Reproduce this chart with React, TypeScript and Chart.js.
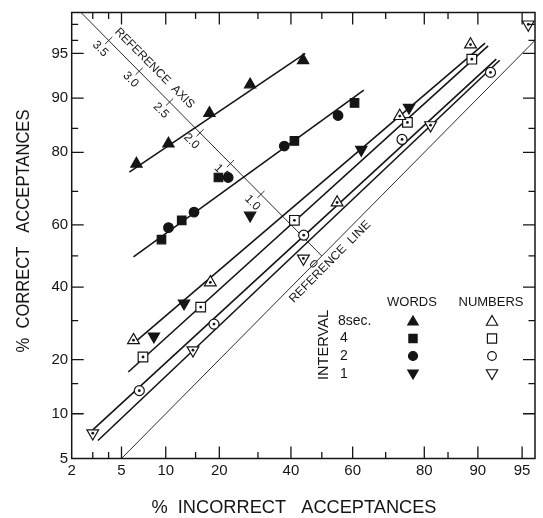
import React, { useEffect, useRef } from 'react';
import { Chart, registerables } from 'chart.js';
Chart.register(...registerables);

const INK = '#151515';
const FONT = '"Liberation Sans", Arial, sans-serif';

// ---- axis ticks (percent) ----
const xTickLabels = [2, 5, 10, 20, 40, 60, 80, 90, 95];
const xMinorTicks = [3, 4, 15, 30, 50, 70, 85];
const yTickLabels = [5, 10, 20, 40, 60, 80, 90, 95];
const yMinorTicks = [15, 30, 50, 70, 85, 96, 97];
const xLimits = [2, 96];
const yLimits = [5, 97.6];

// ---- WORDS (filled symbols) ----
const words8X = [6.4, 10.4, 17.8, 27.8, 43.9];
const words8Y = [77.3, 81.9, 87.7, 91.8, 94.4];
const words4X = [9.4, 12.5, 19.8, 41.1, 60.6];
const words4Y = [55.3, 61.4, 73.8, 82.5, 89.3];
const words2X = [10.4, 14.7, 22.1, 37.9, 55.3];
const words2Y = [59.1, 63.9, 73.8, 81.4, 87.3];
const words1X = [8.4, 12.9, 27.8, 62.7, 76.3];
const words1Y = [25.7, 35.0, 62.9, 80.6, 88.6];

// ---- NUMBERS (open symbols) ----
const nums8X = [6.1, 18.0, 55.0, 73.9, 88.9];
const nums8Y = [24.7, 41.5, 66.8, 87.2, 95.7];
const nums4X = [7.1, 16.0, 41.1, 75.9, 89.1];
const nums4Y = [20.6, 33.9, 61.4, 86.1, 94.5];
const nums2X = [6.7, 18.8, 44.1, 74.5, 91.7];
const nums2Y = [13.7, 29.0, 56.7, 82.8, 93.2];
const nums1X = [3.0, 14.5, 44.0, 81.4, 95.5];
const nums1Y = [7.5, 22.2, 49.2, 85.6, 97.0];

// ---- fitted lines (end points, percent) ----
const fitWords8X = [5.7, 44.6];
const fitWords8Y = [75.2, 95.0];
const fitWords42X = [6.1, 63.5];
const fitWords42Y = [49.7, 91.1];
const fitUpperX = [6.1, 91.0];
const fitUpperY = [23.9, 95.8];
const fitNums4X = [5.6, 91.4];
const fitNums4Y = [17.3, 95.6];
const fitNums2X = [3.0, 92.4];
const fitNums2Y = [7.9, 94.5];
const fitNums1X = [3.3, 92.8];
const fitNums1Y = [6.7, 94.4];

// ---- reference line / reference axis ----
const refLineX = [5, 96];
const refLineY = [5, 96];
const refAxisX = [2.4, 50];
const refAxisY = [97.6, 50];
const refAxisTicks = [3.5, 3.0, 2.5, 2.0, 1.5, 1.0, 0];
const refAxisLabels = ['3.5', '3.0', '2.5', '2.0', '1.5', '1.0', '0'];

// ---- legend ----
const intervalLabels = ['8sec.', '4', '2', '1'];

function probit(p: number): number {
  const a = [-3.969683028665376e1, 2.209460984245205e2, -2.759285104469687e2, 1.38357751867269e2, -3.066479806614716e1, 2.506628277459239];
  const b = [-5.447609879822406e1, 1.615858368580409e2, -1.556989798598866e2, 6.680131188771972e1, -1.328068155288572e1];
  const c = [-7.784894002430293e-3, -3.223964580411365e-1, -2.400758277161838, -2.549732539343734, 4.374664141464968, 2.938163982698783];
  const d = [7.784695709041462e-3, 3.224671290700398e-1, 2.445134137142996, 3.754408661907416];
  const pl = 0.02425;
  if (p < pl) {
    const q = Math.sqrt(-2 * Math.log(p));
    return (((((c[0] * q + c[1]) * q + c[2]) * q + c[3]) * q + c[4]) * q + c[5]) / ((((d[0] * q + d[1]) * q + d[2]) * q + d[3]) * q + 1);
  }
  if (p <= 1 - pl) {
    const q = p - 0.5, r = q * q;
    return ((((((a[0] * r + a[1]) * r + a[2]) * r + a[3]) * r + a[4]) * r + a[5]) * q) / (((((b[0] * r + b[1]) * r + b[2]) * r + b[3]) * r + b[4]) * r + 1);
  }
  const q = Math.sqrt(-2 * Math.log(1 - p));
  return -(((((c[0] * q + c[1]) * q + c[2]) * q + c[3]) * q + c[4]) * q + c[5]) / ((((d[0] * q + d[1]) * q + d[2]) * q + d[3]) * q + 1);
}
const z = (pct: number) => probit(pct / 100);
const pts = (xs: number[], ys: number[]) => xs.map((v, i) => ({ x: z(v), y: z(ys[i]) }));

function drawMarker(ctx: CanvasRenderingContext2D, style: string, x: number, y: number, r: number, filled: boolean, rot: number) {
  ctx.save();
  ctx.beginPath();
  if (style === 'triangle') {
    let rad = (rot * Math.PI) / 180;
    for (let k = 0; k < 3; k++) {
      const px = x + Math.sin(rad) * r, py = y - Math.cos(rad) * r;
      if (k === 0) ctx.moveTo(px, py); else ctx.lineTo(px, py);
      rad += (2 * Math.PI) / 3;
    }
    ctx.closePath();
  } else if (style === 'rect') {
    const s = r * Math.SQRT1_2;
    ctx.rect(x - s, y - s, 2 * s, 2 * s);
  } else {
    ctx.arc(x, y, r, 0, Math.PI * 2);
  }
  ctx.lineWidth = 1.2;
  ctx.strokeStyle = INK;
  ctx.fillStyle = filled ? INK : '#fff';
  ctx.fill();
  ctx.stroke();
  ctx.restore();
}

function fitText(ctx: CanvasRenderingContext2D, text: string, cx: number, cy: number, angle: number, font: string, width: number) {
  ctx.save();
  ctx.font = font;
  const w = ctx.measureText(text).width;
  ctx.translate(cx, cy);
  ctx.rotate(angle);
  ctx.scale(width / w, 1);
  ctx.textAlign = 'center';
  ctx.textBaseline = 'middle';
  ctx.fillStyle = INK;
  ctx.fillText(text, 0, 0);
  ctx.restore();
}

const overlay = {
  id: 'overlay',
  afterDraw(chart: any) {
    const { ctx, chartArea: a, scales } = chart;
    const xs = scales.x, ys = scales.y;
    ctx.save();
    ctx.strokeStyle = INK;
    // frame
    ctx.lineWidth = 1.5;
    ctx.strokeRect(a.left, a.top, a.right - a.left, a.bottom - a.top);
    // inward ticks on all four sides
    ctx.lineWidth = 1.3;
    const xt = (p: number, len: number) => {
      const px = xs.getPixelForValue(z(p));
      ctx.beginPath();
      ctx.moveTo(px, a.bottom); ctx.lineTo(px, a.bottom - len);
      ctx.moveTo(px, a.top); ctx.lineTo(px, a.top + len);
      ctx.stroke();
    };
    const yt = (p: number, len: number) => {
      const py = ys.getPixelForValue(z(p));
      ctx.beginPath();
      ctx.moveTo(a.left, py); ctx.lineTo(a.left + len, py);
      ctx.moveTo(a.right, py); ctx.lineTo(a.right - len, py);
      ctx.stroke();
    };
    xTickLabels.slice(1).forEach((p) => xt(p, 12));
    xMinorTicks.forEach((p) => xt(p, 6.5));
    yTickLabels.slice(1).forEach((p) => yt(p, 12));
    yMinorTicks.forEach((p) => yt(p, 6.5));

    // reference axis ticks + labels
    const ax0x = xs.getPixelForValue(z(refAxisX[0])), ax0y = ys.getPixelForValue(z(refAxisY[0]));
    const ax1x = xs.getPixelForValue(z(refAxisX[1])), ax1y = ys.getPixelForValue(z(refAxisY[1]));
    const L = Math.hypot(ax1x - ax0x, ax1y - ax0y);
    const ux = (ax1x - ax0x) / L, uy = (ax1y - ax0y) / L; // along axis (down-right)
    const nx = uy, ny = -ux; // perpendicular up-right
    const angle = Math.atan2(uy, ux);
    ctx.lineWidth = 0.9;
    refAxisTicks.forEach((dp, i) => {
      const px = xs.getPixelForValue(-dp / 2), py = ys.getPixelForValue(dp / 2);
      if (dp > 0) {
        ctx.beginPath();
        ctx.moveTo(px - nx * 5, py - ny * 5);
        ctx.lineTo(px + nx * 5, py + ny * 5);
        ctx.stroke();
      }
      ctx.save();
      ctx.translate(px - nx * 12, py - ny * 12);
      ctx.rotate(angle);
      ctx.font = `12px ${FONT}`;
      ctx.fillStyle = INK;
      ctx.textAlign = 'center';
      ctx.textBaseline = 'middle';
      ctx.fillText(refAxisLabels[i], 0, 0);
      ctx.restore();
    });
    // "REFERENCE AXIS" label
    {
      const dp = 2.9;
      const px = xs.getPixelForValue(-dp / 2) + nx * 13, py = ys.getPixelForValue(dp / 2) + ny * 13;
      fitText(ctx, 'REFERENCE  AXIS', px, py, angle, `12px ${FONT}`, 108);
    }
    // "REFERENCE LINE" label (below-right of reference line)
    {
      const r0x = xs.getPixelForValue(z(refLineX[0])), r0y = ys.getPixelForValue(z(refLineY[0]));
      const r1x = xs.getPixelForValue(z(refLineX[1])), r1y = ys.getPixelForValue(z(refLineY[1]));
      const LL = Math.hypot(r1x - r0x, r1y - r0y);
      const vx = (r1x - r0x) / LL, vy = (r1y - r0y) / LL;
      const mx = xs.getPixelForValue(0.01), my = ys.getPixelForValue(0.01);
      const qx = -vy, qy = vx; // down-right
      fitText(ctx, 'REFERENCE  LINE', mx + qx * 10, my + qy * 10, Math.atan2(vy, vx), `12px ${FONT}`, 110);
    }

    // legend
    ctx.fillStyle = INK;
    ctx.font = `13px ${FONT}`;
    ctx.textAlign = 'center';
    ctx.textBaseline = 'middle';
    ctx.fillText('WORDS', 412, 302);
    ctx.fillText('NUMBERS', 491, 302);
    fitText(ctx, 'INTERVAL', 324, 345, -Math.PI / 2, `14px ${FONT}`, 70);
    const rowsY = [321, 338.5, 356, 374];
    ctx.font = `14px ${FONT}`;
    ctx.textAlign = 'left';
    intervalLabels.forEach((t, i) => {
      ctx.fillStyle = INK;
      ctx.fillText(t, i === 0 ? 338 : 340, rowsY[i]);
    });
    drawMarker(ctx, 'triangle', 413, rowsY[0] + 1, 6, true, 0);
    drawMarker(ctx, 'rect', 413, rowsY[1], 5.8, true, 0);
    drawMarker(ctx, 'circle', 413, rowsY[2], 4.5, true, 0);
    drawMarker(ctx, 'triangle', 413, rowsY[3] - 1, 6, true, 180);
    drawMarker(ctx, 'triangle', 492, rowsY[0] + 1, 6.5, false, 0);
    drawMarker(ctx, 'rect', 492, rowsY[1], 6.5, false, 0);
    drawMarker(ctx, 'circle', 492, rowsY[2], 4.3, false, 0);
    drawMarker(ctx, 'triangle', 492, rowsY[3] - 1, 6.5, false, 180);

    // axis titles
    fitText(ctx, '%  CORRECT   ACCEPTANCES', 24, 231, -Math.PI / 2, `19px ${FONT}`, 243);
    fitText(ctx, '%  INCORRECT   ACCEPTANCES', 294, 508, 0, `19px ${FONT}`, 285);
    ctx.restore();
  },
};

export default function App() {
  const ref = useRef<HTMLCanvasElement | null>(null);
  useEffect(() => {
    if (!ref.current) return;
    const lineDs = (xs: number[], ys: number[], w = 1.6) => ({
      data: pts(xs, ys),
      showLine: true,
      borderColor: INK,
      borderWidth: w,
      pointRadius: 0,
      fill: false,
      order: 3,
    });
    const markDs = (xs: number[], ys: number[], style: string, r: number, filled: boolean, rot = 0) => ({
      data: pts(xs, ys),
      showLine: false,
      pointStyle: style,
      pointRadius: r,
      pointRotation: rot,
      pointBackgroundColor: filled ? INK : '#fff',
      pointBorderColor: INK,
      pointBorderWidth: 1.2,
      order: 2,
    });
    const dotDs = (xs: number[], ys: number[]) => ({
      data: pts(xs, ys),
      showLine: false,
      pointStyle: 'circle',
      pointRadius: 1.4,
      pointBackgroundColor: INK,
      pointBorderWidth: 0,
      order: 1,
    });
    const chart = new Chart(ref.current, {
      type: 'scatter',
      data: {
        datasets: [
          lineDs(refLineX, refLineY, 0.9),
          lineDs(refAxisX, refAxisY, 0.9),
          lineDs(fitWords8X, fitWords8Y),
          lineDs(fitWords42X, fitWords42Y),
          lineDs(fitUpperX, fitUpperY),
          lineDs(fitNums4X, fitNums4Y),
          lineDs(fitNums2X, fitNums2Y),
          lineDs(fitNums1X, fitNums1Y),
          markDs(words8X, words8Y, 'triangle', 6.5, true),
          markDs(words4X, words4Y, 'rect', 6, true),
          markDs(words2X, words2Y, 'circle', 4.8, true),
          markDs(words1X, words1Y, 'triangle', 6.5, true, 180),
          markDs(nums8X, nums8Y, 'triangle', 6.8, false),
          markDs(nums4X, nums4Y, 'rect', 6.8, false),
          markDs(nums2X, nums2Y, 'circle', 5, false),
          markDs(nums1X, nums1Y, 'triangle', 6.8, false, 180),
          dotDs(nums8X, nums8Y),
          dotDs(nums4X, nums4Y),
          dotDs(nums2X, nums2Y),
          dotDs(nums1X, nums1Y),
        ] as any,
      },
      options: {
        animation: false,
        responsive: true,
        maintainAspectRatio: false,
        events: [],
        layout: { padding: { left: 0, right: 1.3, top: 12.3, bottom: 0 } },
        plugins: { legend: { display: false }, tooltip: { enabled: false } },
        scales: {
          x: {
            type: 'linear',
            min: z(xLimits[0]),
            max: z(xLimits[1]),
            grid: { display: false, drawTicks: false },
            border: { display: false },
            afterBuildTicks: (s: any) => { s.ticks = xTickLabels.map((p) => ({ value: z(p) })); },
            afterFit: (s: any) => { s.height = 59.5; },
            ticks: {
              autoSkip: false, maxRotation: 0, padding: 3, color: INK,
              font: { family: FONT, size: 15 },
              callback: (_v: any, i: number) => String(xTickLabels[i]),
            },
          },
          y: {
            type: 'linear',
            min: z(yLimits[0]),
            max: z(yLimits[1]),
            grid: { display: false, drawTicks: false },
            border: { display: false },
            afterBuildTicks: (s: any) => { s.ticks = yTickLabels.map((p) => ({ value: z(p) })); },
            afterFit: (s: any) => { s.width = 71.7; },
            ticks: {
              autoSkip: false, padding: 3.5, color: INK,
              font: { family: FONT, size: 15 },
              callback: (_v: any, i: number) => String(yTickLabels[i]),
            },
          },
        },
      } as any,
      plugins: [overlay],
    });
    return () => chart.destroy();
  }, []);
  return (
    <div style={{ position: 'fixed', left: 0, top: 0, width: 543, height: 518, background: '#fff' }}>
      <canvas ref={ref} />
    </div>
  );
}
